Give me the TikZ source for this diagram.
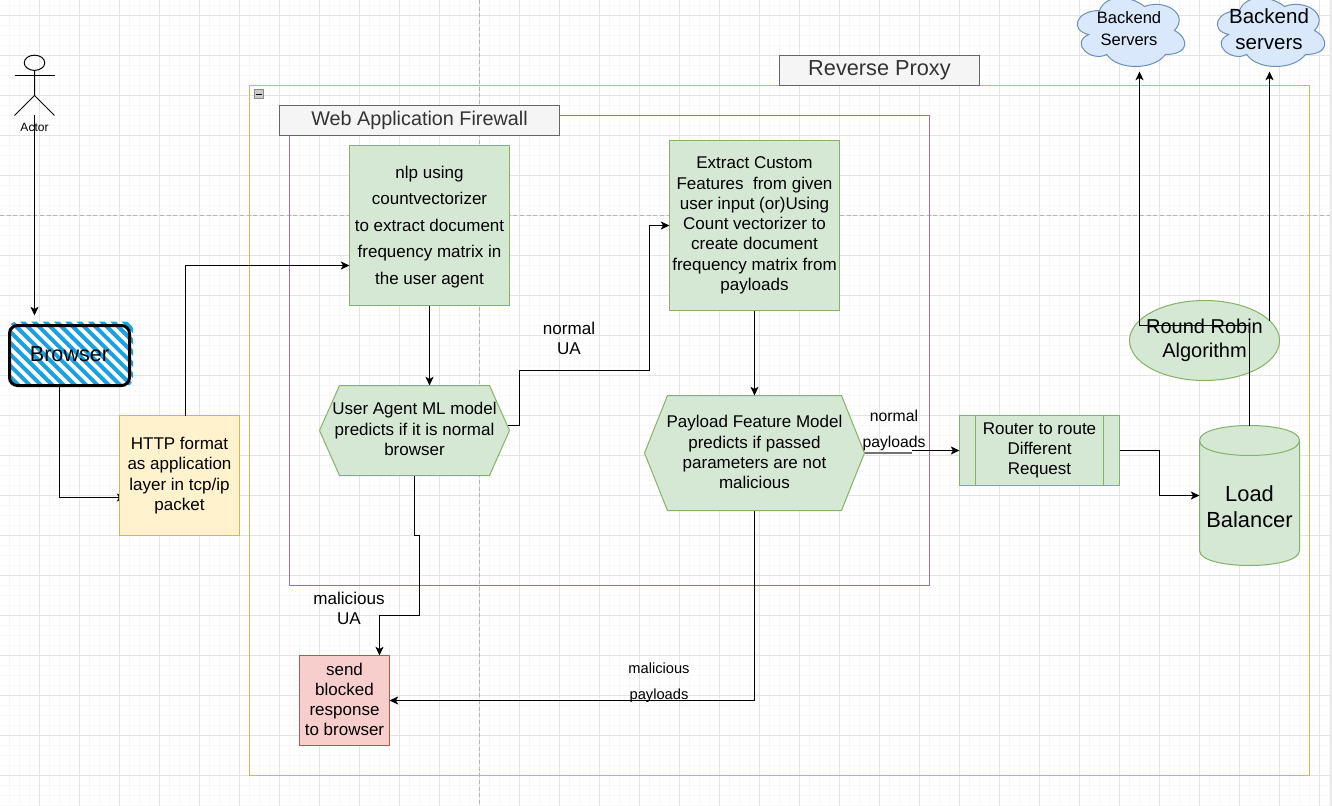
\documentclass[tikz,border=0pt]{standalone}
\usepackage{fontspec}
\setmainfont{Liberation Sans}
\usetikzlibrary{arrows.meta}
\usetikzlibrary{backgrounds}
\usetikzlibrary{calc}
\usetikzlibrary{positioning}
\usetikzlibrary{shapes.geometric}
\definecolor{gridmajor}{HTML}{E4E4E4}
\definecolor{gridminor}{HTML}{F8F8F8}
\definecolor{pagedash}{HTML}{B4B4B4}
\definecolor{greenfill}{HTML}{D5E8D4}
\definecolor{greenline}{HTML}{82B366}
\definecolor{yellowfill}{HTML}{FFF2CC}
\definecolor{yellowline}{HTML}{D6B656}
\definecolor{redfill}{HTML}{F8CECC}
\definecolor{redline}{HTML}{B85450}
\definecolor{purpleline}{HTML}{9673A6}
\definecolor{bluefill}{HTML}{DAE8FC}
\definecolor{blueline}{HTML}{6C8EBF}
\definecolor{hatchblue}{HTML}{1BA1E2}
\tikzset{
  boxsize/.style 2 args={minimum width=#1*0.75pt,minimum height=#2*0.75pt},
  plain/.style={inner sep=0pt,outer sep=0pt,align=center,line width=0.75pt},
  txtA/.style={font=\fontsize{12.75}{15.2}\selectfont},
  greenbox/.style={plain,txtA,draw=greenline,fill=greenfill},
  greenpath/.style={draw=greenline,fill=greenfill,line width=0.75pt},
  titlebox/.style={plain,draw=black!60,fill=black!4,text=black!80},
  edgetext/.style={inner sep=0pt,outer sep=0pt,align=center},
  conn/.style={line width=0.9pt,-{Stealth[length=6.5pt,width=6pt,inset=1.6pt]}},
  hatch/.style={line width=3pt,hatchblue,line cap=round},
}
\newcommand{\cloudpath}[2]{%
  \draw[draw=blueline,fill=bluefill,line width=0.75pt,x=0.9pt,y=-0.6pt,shift={(#1*0.75pt,#2*-0.75pt)}]
    (25,25) .. controls (5,25) and (0,50) .. (16,55)
    .. controls (0,66) and (18,90) .. (31,80)
    .. controls (40,100) and (70,100) .. (80,80)
    .. controls (100,80) and (100,60) .. (87.5,50)
    .. controls (100,30) and (80,10) .. (62.5,20)
    .. controls (50,5) and (30,5) .. (25,25) -- cycle;}
\newcommand{\lift}[1]{\rule[-#1]{0pt}{0pt}}
\begin{document}
\begin{tikzpicture}[x=0.75pt,y=-0.75pt]
\useasboundingbox (0,0) rectangle (1332,806);
\begin{scope}[on background layer]
\fill[white] (0,0) rectangle (1332,806);
\fill[black!8] (1329.5,0) rectangle (1332,806);
% grid
\foreach \x in {9.5,19.5,...,1329.5} \draw[gridminor,line width=0.75pt] (\x,0) -- (\x,806);
\foreach \y in {5.5,15.5,...,805.5} \draw[gridminor,line width=0.75pt] (0,\y) -- (1329.5,\y);
\foreach \x in {39.5,79.5,...,1319.5} \draw[gridmajor,line width=0.75pt] (\x,0) -- (\x,806);
\foreach \y in {15.5,55.5,...,775.5} \draw[gridmajor,line width=0.75pt] (0,\y) -- (1329.5,\y);
\draw[pagedash,densely dashed,line width=0.75pt] (479.5,0) -- (479.5,806);
\draw[pagedash,densely dashed,line width=0.75pt] (0,215.5) -- (1329.5,215.5);
\end{scope}

% containers
\draw[yellowline,line width=0.75pt] (249.5,85.5) rectangle (1309.5,775.5);
\draw[purpleline,line width=0.75pt] (289.5,115.5) rectangle (929.5,585.5);
\node[titlebox,boxsize={200}{30},font=\fontsize{16.3}{18}\selectfont] (proxyTitle) at (879.5,70.5) {Reverse Proxy};
\node[titlebox,boxsize={280}{30},font=\fontsize{14.85}{18}\selectfont] (wafTitle) at (419.5,120.5) {Web Application Firewall};
\node[plain,draw=black!45,fill=black!20,boxsize={9}{9}] (collapseBtn) at (258.5,94.5) {};
\draw[black,line width=0.9pt] (255.5,94.5) -- (261.5,94.5);

% actor
\node[plain,draw=black,ellipse,minimum width=15.4pt,minimum height=11.4pt] (actorHead) at (34.5,62.8) {};
\draw[line width=0.75pt] (actorHead.south) -- (34.5,95.5) -- (14.5,115.5);
\draw[line width=0.75pt] (34.5,95.5) -- (54.5,115.5);
\draw[line width=0.75pt] (14.5,75.5) -- (54.5,75.5);
\node[edgetext,font=\fontsize{9}{11}\selectfont] (actorText) at (34.5,127.5) {Actor};
\coordinate (actorFoot) at (34.5,115.5);
\coordinate (browserIn) at (34.5,315.5);

% browser
\fill[white,rounded corners=6pt] (9.5,325.5) rectangle (129.5,385.5);
\begin{scope}
\clip[rounded corners=6pt] (9,321.5) rectangle (133,386.5);
\foreach \c in {-60,-48.7,...,130} \draw[hatch] (\c,318) -- ++(72,72);
\end{scope}
\node[plain,draw=black,line width=2.25pt,rounded corners=6pt,boxsize={120}{60},font=\fontsize{16.2}{19}\selectfont] (browser) at (69.5,355.5) {Browser\lift{1.5pt}};

% boxes
\node[plain,txtA,draw=yellowline,fill=yellowfill,boxsize={120}{120}] (httpBox) at (179.5,475.5) {HTTP format\\as application\\layer in tcp/ip\\packet};
\node[greenbox,boxsize={160}{160},font=\fontsize{12.75}{19.9}\selectfont] (nlpBox) at (429.5,225.5) {\rule{0pt}{11pt}nlp using\\countvectorizer\\to extract document\\frequency matrix in\\the user agent};
\node[greenbox,boxsize={170}{170}] (featureBox) at (754.5,225.5) {Extract Custom\\Features\ \ from given\\user input (or)Using\\Count vectorizer to\\create document\\frequency matrix from\\payloads};
\node[plain,txtA,draw=redline,fill=redfill,boxsize={90}{90}] (blockedBox) at (344.5,700.5) {send\\blocked\\response\\to browser\lift{1.8pt}};

% hexagons
\draw[greenpath] (319.5,430.5) -- (339.5,385.5) -- (489.5,385.5) -- (509.5,430.5) -- (489.5,475.5) -- (339.5,475.5) -- cycle;
\node[plain,txtA,boxsize={190}{90}] (uaModel) at (414.5,430.5) {User Agent ML model\\predicts if it is normal\\browser\lift{2.2pt}};
\coordinate (uaOut) at (508,425.5);
\draw[greenpath] (644.5,453) -- (667.5,395.5) -- (841.5,395.5) -- (864.5,453) -- (841.5,510.5) -- (667.5,510.5) -- cycle;
\node[plain,txtA,boxsize={220}{115}] (payloadModel) at (754.5,453) {Payload Feature Model\\predicts if passed\\parameters are not\\malicious\lift{1.5pt}};

% router
\node[greenbox,boxsize={160}{70}] (router) at (1039.5,450.5) {Router to route\\Different\\Request};
\draw[greenline,line width=0.75pt] (975.5,415.5) -- (975.5,485.5);
\draw[greenline,line width=0.75pt] (1103.5,415.5) -- (1103.5,485.5);

% load balancer
\draw[greenpath] (1199.5,440.5) .. controls (1199.5,420.5) and (1299.5,420.5) .. (1299.5,440.5)
  -- (1299.5,550.5) .. controls (1299.5,570.5) and (1199.5,570.5) .. (1199.5,550.5) -- cycle;
\draw[greenline,line width=0.75pt] (1199.5,440.5) .. controls (1199.5,460.5) and (1299.5,460.5) .. (1299.5,440.5);
\node[plain,boxsize={100}{140},font=\fontsize{16.4}{19.5}\selectfont] (loadBalancer) at (1249.5,495.5) {\rule{0pt}{28pt}Load\\Balancer};

\node[plain,draw=greenline,fill=greenfill,ellipse,boxsize={150}{80}] (roundRobin) at (1204.5,340.5) {};
\node[edgetext,font=\fontsize{15}{18}\selectfont] (roundRobinText) at (1204.5,340) {Round Robin\\Algorithm};

% clouds
\cloudpath{1069.5}{-9.5}
\cloudpath{1209.5}{-9.5}
\node[edgetext,font=\fontsize{12.4}{16}\selectfont] (backendA) at (1129,28.5) {Backend\\Servers};
\node[edgetext,font=\fontsize{15.4}{20}\selectfont] (backendB) at (1269,29) {Backend\\servers};
\coordinate (backendAin) at (1139.5,71.5);
\coordinate (backendBin) at (1269.5,71.5);

% edge labels
\node[edgetext,font=\fontsize{12.8}{15.3}\selectfont] (normalUA) at (569,338.5) {normal\\UA};
\node[edgetext,font=\fontsize{12.8}{15.3}\selectfont] (maliciousUA) at (349,608.5) {malicious\\UA};
\node[edgetext,font=\fontsize{11}{19.5}\selectfont] (maliciousPay) at (659,682.5) {malicious\\payloads};
\node[edgetext,font=\fontsize{11.8}{19.5}\selectfont] (normalPay) at (894,430.5) {normal\\payloads};

% connectors
\draw[conn] (actorFoot) -- (browserIn);
\begin{scope}[on background layer]
\draw[conn] (browser.south -| 59.5,0) |- ($(httpBox.south west)+(6,-38)$);
\end{scope}
\draw[conn] (httpBox.north -| 185.5,0) |- (nlpBox.west |- 0,265.5);
\draw[conn] (nlpBox.south) -- (nlpBox.south |- uaModel.north);
\draw[conn] (uaOut) -- (519.5,425.5) -- (519.5,370.5) -- (649.5,370.5) |- (featureBox.west);
\draw[conn] (featureBox.south) -- (payloadModel.north);
\draw[conn] (uaModel.south) -- (414.5,535.5) -- (419.5,535.5) -- (419.5,615.5) -- (379.5,615.5) -- (blockedBox.north -| 379.5,0);
\draw[conn] (payloadModel.south) |- (blockedBox.east);
\draw[black!55,line width=1.5pt] (payloadModel.east) -- (912,453);
\draw[conn] (912,450.5) -- (router.west);
\draw[conn] (router.east) -- (1159.5,450.5) |- (loadBalancer.west);
\draw[line width=0.9pt] (loadBalancer.north) -- (1249.5,325.5) -- (1139.5,325.5);
\draw[conn] (1139.5,325.5) -- (backendAin);
\draw[conn] (roundRobin.17 -| backendBin) -- (backendBin);

\end{tikzpicture}
\end{document}
